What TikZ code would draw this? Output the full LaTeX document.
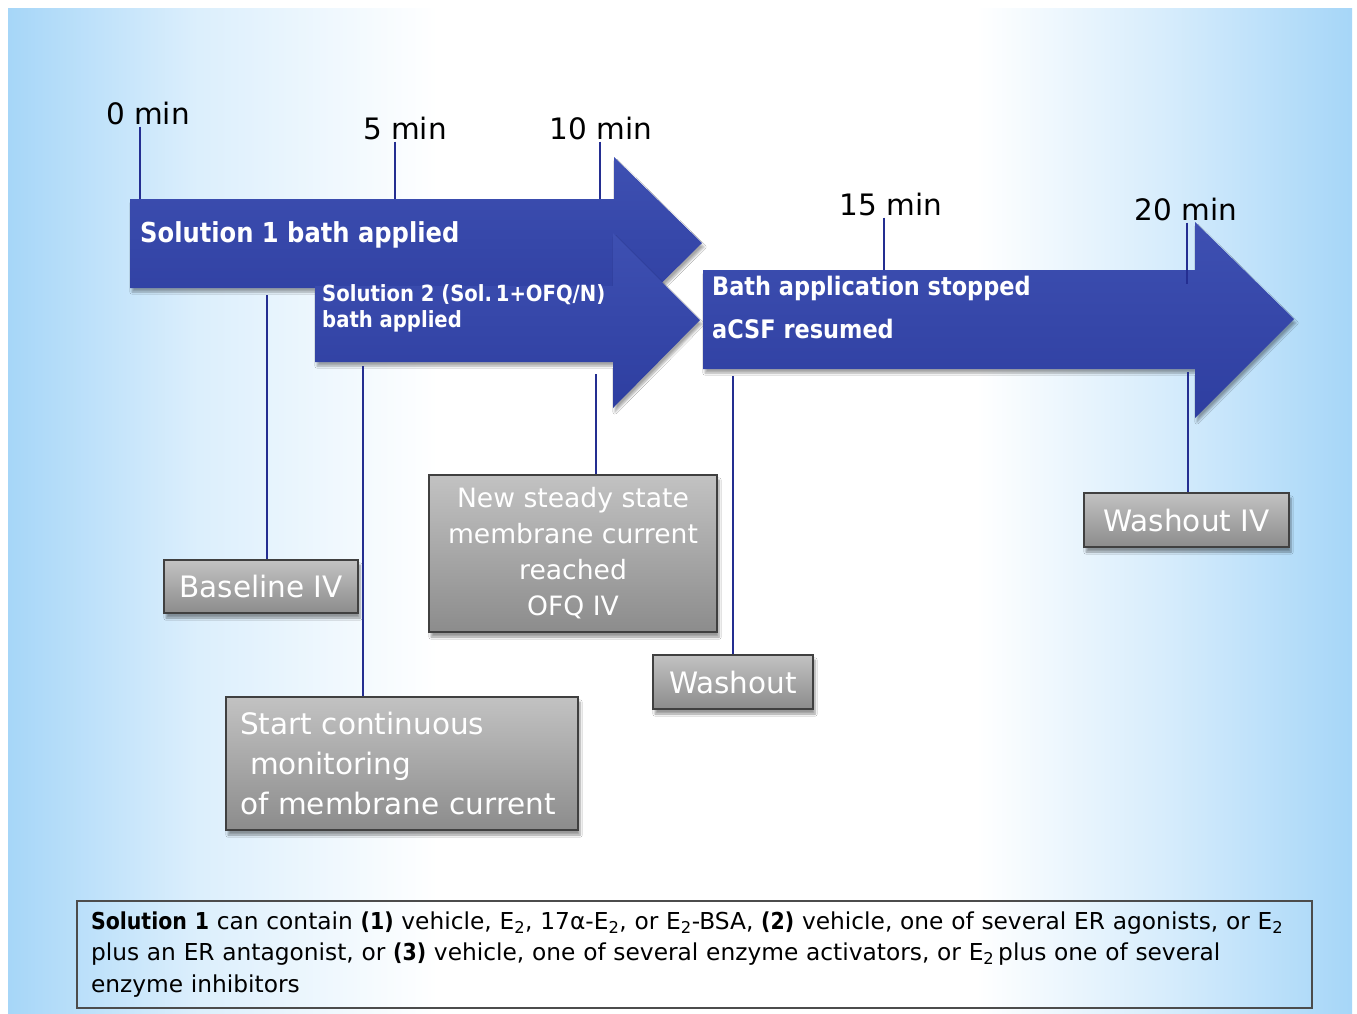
\documentclass[tikz,border=0pt]{standalone}
\usepackage{fontspec}
\setmainfont{DejaVu Sans}[BoldFeatures={FakeStretch=0.88}]
\usetikzlibrary{shadows.blur}
\definecolor{bgblue}{RGB}{166,214,248}
\definecolor{arrowtop}{RGB}{62,80,178}
\definecolor{arrowbot}{RGB}{46,62,160}
\definecolor{tickblue}{RGB}{36,46,145}
\definecolor{boxtop}{RGB}{194,194,194}
\definecolor{boxbot}{RGB}{140,140,140}
\pgfdeclarehorizontalshading{bgshade}{100bp}{color(0bp)=(bgblue); color(25bp)=(bgblue); color(32bp)=(bgblue!40!white); color(41bp)=(white); color(61bp)=(white); color(68bp)=(bgblue!45!white); color(75bp)=(bgblue); color(100bp)=(bgblue)}
\begin{document}
\begin{tikzpicture}[x=1pt,y=-1pt,
  bigarrow/.style={top color=arrowtop, bottom color=arrowbot, draw=none,
    blur shadow={shadow xshift=2pt, shadow yshift=-4pt, shadow blur steps=6, shadow opacity=35}},
  arrowtext/.style={text=white, font=\bfseries, inner sep=0pt, align=left},
  tick/.style={draw=tickblue, line width=2.4pt},
  timelabel/.style={font=\fontsize{29.5}{32}\selectfont, text=black, inner sep=2pt},
  graybox/.style={draw=black!75, line width=1.5pt, top color=boxtop, bottom color=boxbot,
    text=white, inner sep=0pt,
    blur shadow={shadow xshift=2pt, shadow yshift=-5pt, shadow blur steps=6, shadow opacity=40}},
  notebox/.style={draw=black!70, line width=1.5pt, inner xsep=14pt, inner ysep=0pt, align=left}
]
\useasboundingbox (0,0) rectangle (1357,1013);
% background
\fill[white] (0,0) rectangle (1357,1013);
\shade[shading=bgshade] (8,8) rectangle (1352,1013);

% arrow 1
\path[bigarrow] (130,199) -- (614,199) -- (614,157) -- (702,243) -- (614,330) -- (614,288) -- (130,288) -- cycle;
% arrow 2
\path[bigarrow] (315,286) -- (613,286) -- (613,233) -- (700,320) -- (613,408) -- (613,362) -- (315,362) -- cycle;
% arrow 3
\path[bigarrow] (703,270) -- (1195,270) -- (1195,222) -- (1294,319) -- (1195,418) -- (1195,369) -- (703,369) -- cycle;

% arrow texts
\node[arrowtext, anchor=west, font=\bfseries\fontsize{27.5}{30}\selectfont] (s1) at (140,235) {Solution 1 bath applied};
\node[arrowtext, anchor=north west, font=\bfseries\fontsize{22.3}{26}\selectfont] (s2) at (322,284) {Solution 2 (Sol.\,1+OFQ/N)\\bath applied};
\node[arrowtext, anchor=north west, font=\bfseries\fontsize{25.5}{43}\selectfont] (s3) at (712,276) {Bath application stopped\\aCSF resumed};

% time labels
\node[timelabel] (t0) at (148,113) {0 min};
\node[timelabel] (t5) at (405,128) {5 min};
\node[timelabel] (t10) at (601,128) {10 min};
\node[timelabel] (t15) at (891,204) {15 min};
\node[timelabel] (t20) at (1186,209) {20 min};

\coordinate (a0) at (140,199);
\coordinate (a5) at (395,199);
\coordinate (a10) at (600,199);
\coordinate (a15) at (884,270);
\coordinate (a20) at (1187,284);
\draw[tick] (t0.south -| a0) -- (a0);
\draw[tick] (t5.south -| a5) -- (a5);
\draw[tick] (t10.south -| a10) -- (a10);
\draw[tick] (t15.south -| a15) -- (a15);
\draw[tick] (t20.south -| a20) -- (a20);

% gray boxes
\node[graybox, minimum width=194pt, minimum height=53pt, font=\fontsize{29.5}{36}\selectfont] (base) at (261,586.5) {Baseline IV};
\node[graybox, minimum width=288pt, minimum height=157pt, align=center, font=\fontsize{26.6}{36}\selectfont] (steady) at (573,553.5) {New steady state\\membrane current\\reached\\OFQ IV};
\node[graybox, minimum width=160pt, minimum height=54pt, font=\fontsize{29.5}{36}\selectfont] (wash) at (733,682) {Washout};
\node[graybox, minimum width=352pt, minimum height=133pt, align=left, text width=324pt, font=\fontsize{29.5}{40}\selectfont] (start) at (402,763.5) {Start continuous\\\hspace*{10pt}monitoring\\of membrane current};
\node[graybox, minimum width=205pt, minimum height=54pt, font=\fontsize{29.5}{36}\selectfont] (washiv) at (1186.5,520) {Washout IV};

% drop lines
\coordinate (d1) at (267,295);
\coordinate (d2) at (363,366);
\coordinate (d3) at (596,374);
\coordinate (d4) at (733,376);
\coordinate (d5) at (1188,372);
\draw[tick] (d1) -- (base.north -| d1);
\draw[tick] (d2) -- (start.north -| d2);
\draw[tick] (d3) -- (steady.north -| d3);
\draw[tick] (d4) -- (wash.north -| d4);
\draw[tick] (d5) -- (washiv.north -| d5);

% note box
\node[notebox, minimum width=1235pt, minimum height=107pt, text width=1207pt, font=\fontsize{23.3}{31.5}\selectfont] (note) at (694.5,954.5)
{\textbf{Solution 1} can contain \textbf{(1)} vehicle, E\textsubscript{2}, 17α-E\textsubscript{2}, or E\textsubscript{2}-BSA, \textbf{(2)} vehicle, one of several ER agonists, or E\textsubscript{2}\\
plus an ER antagonist, or \textbf{(3)} vehicle, one of several enzyme activators, or E\textsubscript{2}\,plus one of several\\
enzyme inhibitors};
\end{tikzpicture}
\end{document}
